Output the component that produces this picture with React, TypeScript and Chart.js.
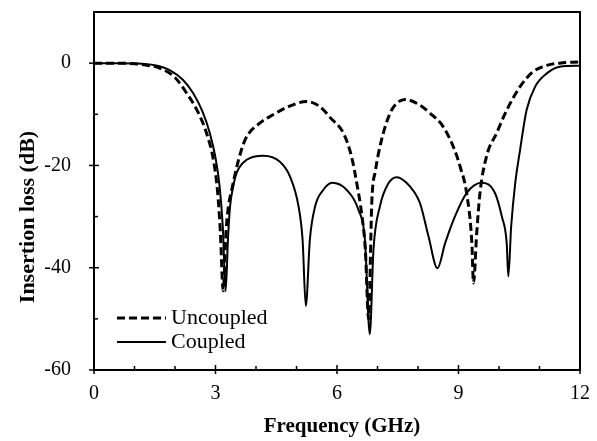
import React, { useEffect, useRef } from "react";
import { Chart, registerables } from "chart.js";

Chart.register(...registerables);

const freqUncoupled = [0, 0.5, 1.0, 1.3, 1.63, 2.0, 2.29, 2.55, 2.78, 2.95, 3.05, 3.12, 3.19, 3.26, 3.32, 3.4, 3.55, 3.73, 4.1, 4.42, 4.8, 5.25, 5.58, 5.85, 6.16, 6.36, 6.5, 6.61, 6.7, 6.78, 6.86, 6.95, 7.1, 7.31, 7.47, 7.68, 8.0, 8.3, 8.62, 8.87, 9.05, 9.2, 9.33, 9.37, 9.45, 9.53, 9.7, 9.94, 10.19, 10.52, 10.84, 11.2, 11.5, 12];
const lossUncoupled = [0, 0, -0.1, -0.4, -1, -2.8, -5.9, -9.3, -13.7, -19, -25, -33, -44.5, -33, -28, -24.8, -19.5, -15, -11.7, -10.1, -8.5, -7.5, -8.5, -10.8, -13.7, -18.3, -24, -29.5, -36.5, -50, -27, -21, -15, -9.8, -7.9, -7.1, -8, -9.8, -12.4, -16.3, -20.5, -25.4, -35.2, -43, -33.2, -25.4, -18, -13.7, -9.2, -4.6, -1.7, -0.4, 0, 0.25];

const freqCoupled = [0, 0.5, 1.0, 1.5, 1.88, 2.2, 2.45, 2.68, 2.86, 3.0, 3.1, 3.18, 3.25, 3.31, 3.36, 3.44, 3.52, 3.77, 4.18, 4.59, 4.84, 5.05, 5.15, 5.23, 5.33, 5.46, 5.66, 5.88, 6.24, 6.53, 6.69, 6.81, 6.9, 7.06, 7.27, 7.47, 7.8, 8.05, 8.26, 8.48, 8.67, 8.91, 9.2, 9.57, 9.9, 10.07, 10.19, 10.23, 10.3, 10.4, 10.52, 10.68, 10.9, 11.18, 11.5, 12];
const lossCoupled = [0, 0, -0.05, -0.4, -1.4, -3.3, -5.9, -9.5, -13.7, -18.5, -24, -32, -44.6, -34, -28, -24, -21.5, -18.9, -18.1, -19.3, -22.2, -28, -34.5, -47.5, -34.5, -28, -24.8, -23.4, -24.8, -28.7, -34.5, -53, -36.5, -28, -23.5, -22.3, -24.1, -27.4, -33.9, -40.1, -35.2, -30, -25.4, -23.4, -25.4, -30, -35.2, -41.7, -32, -23.5, -17, -9.2, -4.5, -2, -0.7, -0.5];

const seriesLabels = ["Uncoupled", "Coupled"];
const xTitle = "Frequency (GHz)";
const yTitle = "Insertion loss (dB)";
const xMin = 0, xMax = 12, xStep = 1, xLabelEvery = 3;
const yMin = -60, yMax = 10, yStep = 10, yLabelEvery = 20;

const SERIF = "'Liberation Serif', 'Times New Roman', serif";

const framePlugin = {
  id: "frame",
  afterDraw(chart: any) {
    const { ctx, chartArea } = chart;
    const { left, right, top, bottom } = chartArea;
    const xs = chart.scales.x;
    const ys = chart.scales.y;
    ctx.save();
    ctx.strokeStyle = "#000";
    ctx.lineWidth = 2;
    ctx.setLineDash([]);
    ctx.strokeRect(left, top, right - left, bottom - top);
    ctx.lineWidth = 1.5;
    for (let v = xMin; v <= xMax; v += xStep) {
      const px = xs.getPixelForValue(v);
      const major = v % xLabelEvery === 0;
      ctx.beginPath();
      ctx.moveTo(px, bottom + (major ? 4 : 0));
      ctx.lineTo(px, bottom - (major ? 5 : 4));
      ctx.stroke();
    }
    for (let v = yMin; v <= yMax; v += yStep) {
      const py = ys.getPixelForValue(v);
      const major = v % yLabelEvery === 0;
      ctx.beginPath();
      ctx.moveTo(left - (major ? 5 : 0), py);
      ctx.lineTo(left + (major ? 5 : 4), py);
      ctx.stroke();
    }
    // axis titles
    ctx.fillStyle = "#000";
    ctx.font = `bold 21px ${SERIF}`;
    ctx.textAlign = "center";
    ctx.textBaseline = "middle";
    ctx.fillText(xTitle, 342, 427);
    ctx.save();
    ctx.translate(28, 217);
    ctx.rotate(-Math.PI / 2);
    ctx.font = `bold 22px ${SERIF}`;
    ctx.fillText(yTitle, 0, 0);
    ctx.restore();
    // legend
    const ds = chart.data.datasets;
    const rows = [318, 342];
    ctx.textAlign = "left";
    ctx.textBaseline = "alphabetic";
    ctx.font = `22px ${SERIF}`;
    ds.forEach((d: any, i: number) => {
      ctx.beginPath();
      ctx.lineWidth = d.borderWidth;
      ctx.setLineDash(d.borderDash || []);
      ctx.moveTo(117, rows[i]);
      ctx.lineTo(166, rows[i]);
      ctx.stroke();
      ctx.setLineDash([]);
      ctx.fillText(d.label, 171, rows[i] + 6);
    });
    ctx.restore();
  },
};

export default function App() {
  const ref = useRef<HTMLCanvasElement>(null);
  useEffect(() => {
    document.body.style.margin = "0";
    const canvas = ref.current!;
    const chart = new Chart(canvas, {
      type: "line",
      data: {
        datasets: [
          {
            label: seriesLabels[0],
            data: freqUncoupled.map((f, i) => ({ x: f, y: lossUncoupled[i] })),
            borderColor: "#000",
            borderWidth: 3,
            borderDash: [8, 4],
            pointRadius: 0,
            cubicInterpolationMode: "monotone",
            fill: false,
          },
          {
            label: seriesLabels[1],
            data: freqCoupled.map((f, i) => ({ x: f, y: lossCoupled[i] })),
            borderColor: "#000",
            borderWidth: 2,
            pointRadius: 0,
            cubicInterpolationMode: "monotone",
            fill: false,
          },
        ],
      },
      options: {
        animation: false,
        responsive: false,
        layout: { padding: { top: 12, right: 17, left: 0, bottom: 0 } },
        plugins: { legend: { display: false }, tooltip: { enabled: false } },
        scales: {
          x: {
            type: "linear",
            min: xMin,
            max: xMax,
            grid: { display: false },
            border: { display: false },
            afterFit: (s: any) => { s.height = 71; s.paddingLeft = 0; s.paddingRight = 0; },
            ticks: {
              stepSize: xStep,
              autoSkip: false,
              maxRotation: 0,
              padding: 4,
              color: "#000",
              font: { family: SERIF, size: 20 },
              callback: (v: any) => (Number(v) % xLabelEvery === 0 ? String(v) : ""),
            },
          },
          y: {
            type: "linear",
            min: yMin,
            max: yMax,
            grid: { display: false },
            border: { display: false },
            afterFit: (s: any) => { s.width = 94; s.paddingTop = 0; s.paddingBottom = 0; },
            ticks: {
              stepSize: yStep,
              autoSkip: false,
              padding: 15,
              color: "#000",
              font: { family: SERIF, size: 20 },
              callback: (v: any) => (Number(v) % yLabelEvery === 0 && Number(v) <= 0 ? String(v) : ""),
            },
          },
        },
      },
      plugins: [framePlugin],
    } as any);
    return () => chart.destroy();
  }, []);
  return (
    <div style={{ width: 597, height: 441, background: "#fff" }}>
      <canvas ref={ref} width={597} height={441} />
    </div>
  );
}
